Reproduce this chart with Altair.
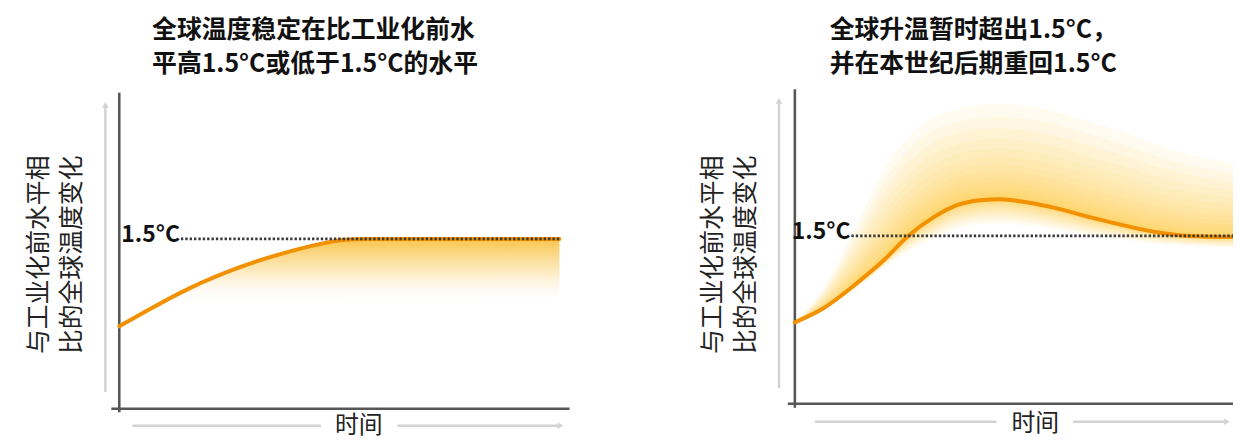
import altair as alt
import pandas as pd

# ---------------- data ----------------
THRESHOLD = 1.5
THRESHOLD_LABEL = "1.5°C"

LEFT_TIME = [0, 6.8, 15.8, 27.1, 38.4, 45.8, 50.8, 56.4, 100]
LEFT_WARMING = [0.728, 0.877, 1.061, 1.246, 1.386, 1.456, 1.491, 1.5, 1.5]
LEFT_SHADE_LOW = [0.728, 0.80, 0.83, 0.85, 0.895, 0.94, 0.955, 0.965, 0.98]

RIGHT_TIME = [0, 6.8, 14.3, 20.4, 25.6, 31.7, 37.0, 42.4, 46.9, 52.8, 59.6, 67.3, 74.8, 82.3, 90.0, 100]
RIGHT_WARMING = [0.728, 0.861, 1.083, 1.287, 1.491, 1.668, 1.775, 1.819, 1.828, 1.801, 1.748, 1.668, 1.597, 1.535, 1.500, 1.49]
RIGHT_RANGE_HIGH = [0.728, 1.05, 1.62, 2.10, 2.37, 2.56, 2.63, 2.67, 2.68, 2.66, 2.61, 2.52, 2.43, 2.32, 2.23, 2.15]
RIGHT_RANGE_LOW = [0.728, 0.845, 1.04, 1.225, 1.36, 1.48, 1.565, 1.605, 1.612, 1.592, 1.556, 1.505, 1.468, 1.432, 1.413, 1.395]

LEFT_YAXIS_SPAN = [-0.03, 2.79]
LEFT_XAXIS_SPAN = [-1.8, 102.3]
LEFT_DOTTED_SPAN = [14.0, 100]
RIGHT_YAXIS_SPAN = [-0.035, 2.81]
RIGHT_XAXIS_SPAN = [-1.6, 100]
RIGHT_DOTTED_SPAN = [12.9, 100]

LEFT_TITLE = ["全球温度稳定在比工业化前水", "平高1.5°C或低于1.5°C的水平"]
RIGHT_TITLE = ["全球升温暂时超出1.5°C，", "并在本世纪后期重回1.5°C"]
Y_TITLE = ["与工业化前水平相", "比的全球温度变化"]
X_TITLE = "时间"

# ---------------- styles ----------------
CJK = "Noto Sans CJK SC"
ORANGE = "#F29100"
AXIS_DARK = "#565656"
GUIDE_GRAY = "#d3d3d3"
DOT_COLOR = "#3a3a3a"

lx = alt.Scale(domain=[0, 100], range=[112, 555], nice=False, zero=False)
ly = alt.Scale(domain=[0, 3], range=[402, 60], nice=False, zero=False)
rx = alt.Scale(domain=[0, 100], range=[792, 1233], nice=False, zero=False)
ry = alt.Scale(domain=[0, 3], range=[397, 59], nice=False, zero=False)

left_df = pd.DataFrame({"t": LEFT_TIME, "temp": LEFT_WARMING, "low": LEFT_SHADE_LOW})
right_df = pd.DataFrame({"t": RIGHT_TIME, "temp": RIGHT_WARMING,
                         "high": RIGHT_RANGE_HIGH, "low": RIGHT_RANGE_LOW})
one = pd.DataFrame({"k": [0]})


def X(field, sc):
    return alt.X(field, type="quantitative", scale=sc, axis=None)


def Y(field, sc):
    return alt.Y(field, type="quantitative", scale=sc, axis=None)


def panel(df, sx, sy, yspan, xspan, dotted, shade_layers):
    layers = list(shade_layers)
    layers.append(
        alt.Chart(pd.DataFrame({"t": [0], "a": [yspan[0]], "b": [yspan[1]]}))
        .mark_rule(color=AXIS_DARK, strokeWidth=2.6)
        .encode(x=X("t", sx), y=Y("a", sy), y2="b:Q")
    )
    layers.append(
        alt.Chart(pd.DataFrame({"v": [0], "a": [xspan[0]], "b": [xspan[1]]}))
        .mark_rule(color=AXIS_DARK, strokeWidth=2.6)
        .encode(y=Y("v", sy), x=X("a", sx), x2="b:Q")
    )
    layers.append(
        alt.Chart(df)
        .mark_line(color=ORANGE, strokeWidth=4, interpolate="monotone", strokeCap="round")
        .encode(x=X("t", sx), y=Y("temp", sy))
    )
    dd = pd.DataFrame({"v": [THRESHOLD], "a": [dotted[0]], "b": [dotted[1]], "lab": [THRESHOLD_LABEL]})
    layers.append(
        alt.Chart(dd)
        .mark_rule(color=DOT_COLOR, strokeWidth=2.8, strokeDash=[2.4, 2.0])
        .encode(y=Y("v", sy), x=X("a", sx), x2="b:Q")
    )
    layers.append(
        alt.Chart(dd)
        .mark_text(align="right", baseline="middle", dx=-1, dy=-4, fontSize=23,
                   fontWeight="bold", font=CJK, color="#111111")
        .encode(y=Y("v", sy), x=X("a", sx), text="lab:N")
    )
    return layers


left_shade = (
    alt.Chart(left_df)
    .mark_area(
        interpolate="monotone",
        opacity=1,
        color=alt.Gradient(
            gradient="linear", x1=0, x2=0, y1=0, y2=1,
            stops=[
                alt.GradientStop(color="rgba(248,186,40,0.85)", offset=0),
                alt.GradientStop(color="rgba(250,204,100,0.45)", offset=0.35),
                alt.GradientStop(color="rgba(255,240,215,0)", offset=0.72),
            ],
        ),
    )
    .encode(x=X("t", lx), y=Y("temp", ly), y2="low:Q")
)

# right glow: nested translucent bands, denser near the curve
N = 18
right_shades = []
for k in range(1, N + 1):
    f = round((k / N) ** 2.5, 4)
    right_shades.append(
        alt.Chart(right_df)
        .transform_calculate(
            hi=f"datum.temp + (datum.high - datum.temp) * {f}",
            lo=f"datum.temp - (datum.temp - datum.low) * {f}",
        )
        .mark_area(color="#F8BC22", opacity=0.068, interpolate="monotone")
        .encode(x=X("t", rx), y=Y("hi", ry), y2="lo:Q")
    )

layers = []
layers += panel(left_df, lx, ly, LEFT_YAXIS_SPAN, LEFT_XAXIS_SPAN, LEFT_DOTTED_SPAN, [left_shade])
layers += panel(right_df, rx, ry, RIGHT_YAXIS_SPAN, RIGHT_XAXIS_SPAN, RIGHT_DOTTED_SPAN, right_shades)


def text(s, x, y, size, weight="normal", angle=0, align="left", color="#111111"):
    kw = dict(align=align, baseline="middle", fontSize=size, fontWeight=weight,
              font=CJK, color=color)
    if angle:
        kw["angle"] = angle
    return (
        alt.Chart(pd.DataFrame({"s": [s]}))
        .mark_text(**kw)
        .encode(x=alt.value(x), y=alt.value(y), text="s:N")
    )


def block(lines, x, y, size):
    return (
        alt.Chart(one)
        .mark_text(text=lines, align="left", baseline="top", lineHeight=34,
                   fontSize=size, fontWeight="bold", font=CJK, color="#111111")
        .encode(x=alt.value(x), y=alt.value(y))
    )


def rule(x, y, x2=None, y2=None):
    enc = dict(x=alt.value(x), y=alt.value(y))
    if x2 is not None:
        enc["x2"] = alt.value(x2)
    if y2 is not None:
        enc["y2"] = alt.value(y2)
    return alt.Chart(one).mark_rule(color=GUIDE_GRAY, strokeWidth=2.5).encode(**enc)


def head(x, y, shape):
    return (
        alt.Chart(one)
        .mark_point(shape=shape, filled=True, size=45, color=GUIDE_GRAY, opacity=1)
        .encode(x=alt.value(x), y=alt.value(y))
    )


layers += [
    block(LEFT_TITLE, 145, 9, 25),
    block(RIGHT_TITLE, 827, 9, 25),
]
for x0 in (0, 679):
    layers += [
        text(Y_TITLE[0], 31 + x0, 247, 25, angle=270, align="center", color="#222222"),
        text(Y_TITLE[1], 64 + x0, 247, 25, angle=270, align="center", color="#222222"),
    ]
layers += [
    text(X_TITLE, 353, 419, 24, align="center", color="#222222"),
    text(X_TITLE, 1034, 417, 24, align="center", color="#222222"),
]
layers += [
    rule(98, 97, y2=385), head(98, 96, "triangle-up"),
    rule(776, 93, y2=381), head(776, 92, "triangle-up"),
    rule(125, 419, x2=315), rule(392, 419, x2=554), head(556, 419, "triangle-right"),
    rule(812, 415, x2=995), rule(1072, 415, x2=1225), head(1227, 415, "triangle-right"),
]

chart = (
    alt.layer(*layers)
    .resolve_scale(x="independent", y="independent")
    .properties(width=1233, height=432, padding=0,
                autosize=alt.AutoSizeParams(type="none"), background="white")
    .configure_view(stroke=None)
)

chart.save("out.html", embed_options={"renderer": "svg", "actions": False})
